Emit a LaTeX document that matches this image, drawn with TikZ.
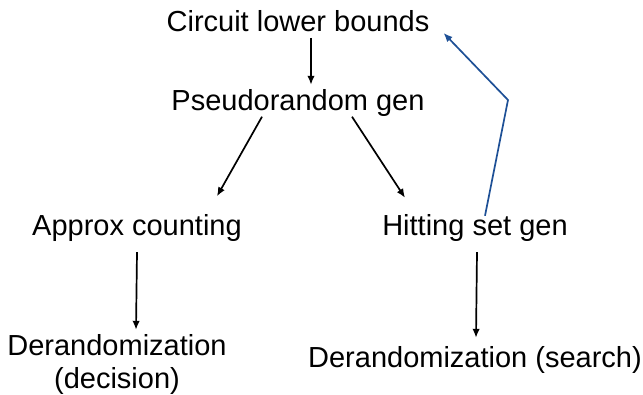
\documentclass[tikz,border=0pt]{standalone}
\usepackage{fontspec}
\setmainfont{Liberation Sans}
\usetikzlibrary{arrows.meta}
\definecolor{darkblue}{RGB}{30,80,150}
\begin{document}
\begin{tikzpicture}[x=1pt,y=-1pt,
  lbl/.style={font=\fontsize{29}{33}\selectfont, inner sep=0pt, align=center},
  arr/.style={line width=1.7pt, -{Latex[length=9pt,width=7.5pt]}},
  barr/.style={arr, draw=darkblue}]
\useasboundingbox (0,0) rectangle (643,395);
\node[lbl] (clb) at (298,21) {Circuit lower bounds};
\node[lbl] (pg) at (298,103) {Pseudorandom gen};
\node[lbl] (ac) at (137,228) {Approx counting};
\node[lbl] (hsg) at (475,228) {Hitting set gen};
\node[lbl] (dd) at (117,364) {Derandomization\\(decision)};
\node[lbl] (ds) at (475,360) {Derandomization (search)};
\coordinate (bend) at (508,100);
\draw[arr] ([xshift=13pt,yshift=-6pt]clb.south) -- ([xshift=13pt,yshift=4.5pt]pg.north);
\draw[arr] ([xshift=-36pt]pg.south) -- ([xshift=80pt,yshift=18pt]ac.north);
\draw[arr] ([xshift=54pt]pg.south) -- ([xshift=-70pt,yshift=16.5pt]hsg.north);
\draw[arr] ([yshift=-10.5pt]ac.south) -- ([xshift=19pt,yshift=4pt]dd.north);
\draw[arr] ([xshift=2pt,yshift=-10.5pt]hsg.south) -- ([xshift=1pt,yshift=8.5pt]ds.north);
\draw[barr] ([xshift=10pt,yshift=-1.5pt]hsg.north) -- (bend) -- ([xshift=14pt,yshift=-12pt]clb.east);
\end{tikzpicture}
\end{document}
